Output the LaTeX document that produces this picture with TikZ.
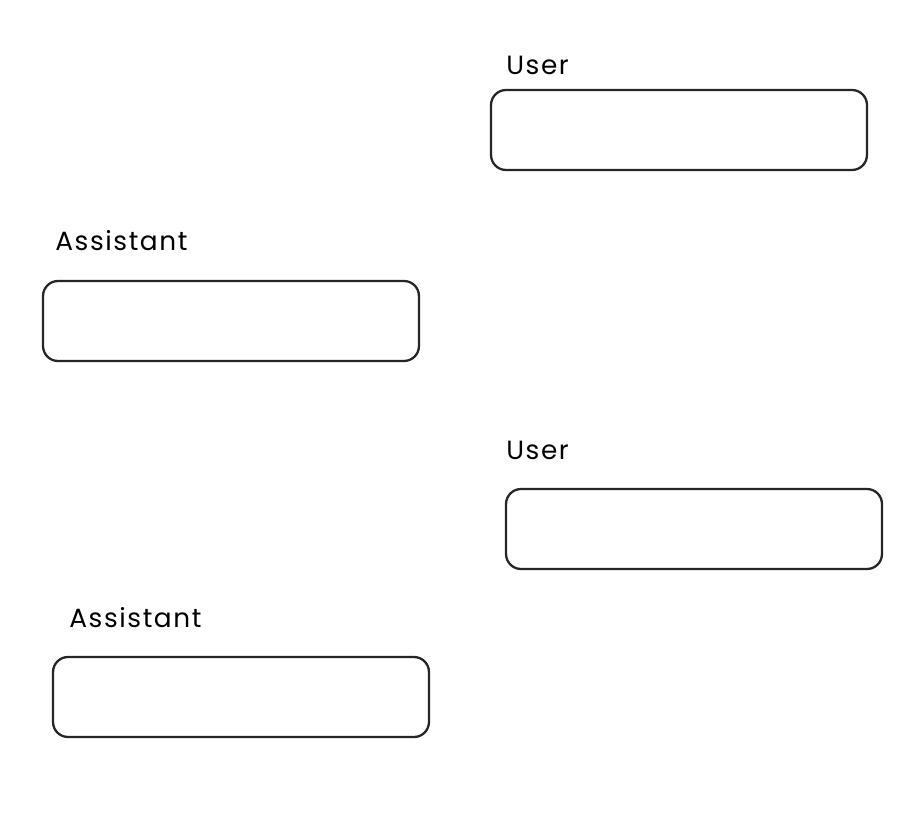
\documentclass[tikz,border=0pt]{standalone}
\usepackage{fontspec}
\setmainfont{Poppins}
\usepackage{tikz}
\usetikzlibrary{positioning}

\begin{document}
\begin{tikzpicture}[x=0.02cm,y=-0.02cm,
    msgbox/.style={draw=black!85, line width=1.3pt, rounded corners=0.3cm,
        minimum width=7.52cm, minimum height=1.6cm, inner sep=0pt},
    tag/.style={anchor=base west, inner sep=0pt,
        font=\fontsize{15}{17}\selectfont\addfontfeature{LetterSpace=6}}]

\useasboundingbox (0,0) rectangle (919,821);

% message boxes
\node[msgbox] (user1) at (679,130) {};
\node[msgbox] (asst1) at (231,321) {};
\node[msgbox] (user2) at (694,529) {};
\node[msgbox] (asst2) at (241,697) {};

% role labels
\node[tag] (userlab1) at (506,75) {User};
\node[tag] (asstlab1) at (55,250) {Assistant};
\node[tag] (userlab2) at (506,459) {User};
\node[tag] (asstlab2) at (69,627) {Assistant};

\end{tikzpicture}
\end{document}
